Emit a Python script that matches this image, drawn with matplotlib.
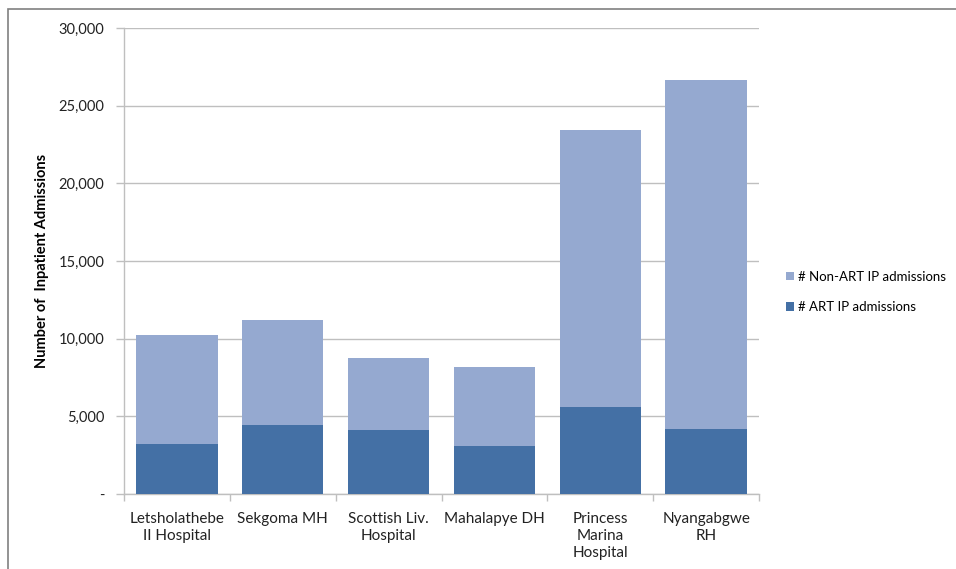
import matplotlib
matplotlib.use("Agg")
import matplotlib.pyplot as plt
from matplotlib.patches import Rectangle
from matplotlib.ticker import FuncFormatter, FixedLocator
import numpy as np

plt.rcParams['font.family'] = ['Lato', 'DejaVu Sans']

categories = ["Letsholathebe\nII Hospital", "Sekgoma MH", "Scottish Liv.\nHospital",
              "Mahalapye DH", "Princess\nMarina\nHospital", "Nyangabgwe\nRH"]
art = [3230, 4470, 4100, 3120, 5590, 4170]
total = [10260, 11180, 8730, 8150, 23440, 26660]
non_art = [t - a for t, a in zip(total, art)]
series_names = ["# ART IP admissions", "# Non-ART IP admissions"]
yticks = [0, 5000, 10000, 15000, 20000, 25000, 30000]

dark = "#4470A5"
light = "#95A9D0"
grid = "#BFBFBF"

fig = plt.figure(figsize=(9.56, 5.69), dpi=100)
ax = fig.add_axes([124/956, 1-494/569, (759-124)/956, (494-28)/569])

x = np.arange(len(categories))
b1 = ax.bar(x, art, width=0.77, color=dark, label=series_names[0], zorder=3)
b2 = ax.bar(x, non_art, bottom=art, width=0.77, color=light, label=series_names[1], zorder=3)

ax.set_xlim(-0.5, len(categories) - 0.5)
ax.set_ylim(0, 30000)
ax.set_yticks(yticks)
ax.yaxis.set_major_formatter(FuncFormatter(lambda v, p: "-" if v == 0 else f"{int(v):,}"))
ax.grid(axis='y', color=grid, linewidth=1, zorder=0)
ax.set_axisbelow(True)

ax.set_xticks(x)
ax.set_xticklabels(categories, fontsize=11, color="#222222", linespacing=1.25)
ax.tick_params(axis='x', which='major', length=0, pad=13)
ax.xaxis.set_minor_locator(FixedLocator(np.arange(-0.5, len(categories), 1)))
ax.tick_params(axis='x', which='minor', length=5, color=grid, width=1)
ax.tick_params(axis='y', length=6, color=grid, width=1, labelsize=10.5, labelcolor="#222222", pad=8)

for s in ['top', 'right']:
    ax.spines[s].set_visible(False)
for s in ['left', 'bottom']:
    ax.spines[s].set_color(grid)
    ax.spines[s].set_linewidth(1)

ax.set_ylabel("Number of  Inpatient Admissions", fontsize=10.5, fontweight='bold')
ax.yaxis.set_label_coords(-0.118, 0.5)

handles = [b2, b1]
labels = [series_names[1], series_names[0]]
fig.legend(handles, labels, loc='center left', bbox_to_anchor=(774/956, 1-292/569),
           frameon=False, fontsize=9.5, handlelength=0.6, handleheight=0.6,
           handletextpad=0.3, labelspacing=1.4)

fig.patches.append(Rectangle((8/956, -0.1), 1.2, 1 - 9/569 + 0.1, transform=fig.transFigure,
                             fill=False, edgecolor="#808080", linewidth=1.2))

fig.savefig("out.png", dpi=100)
